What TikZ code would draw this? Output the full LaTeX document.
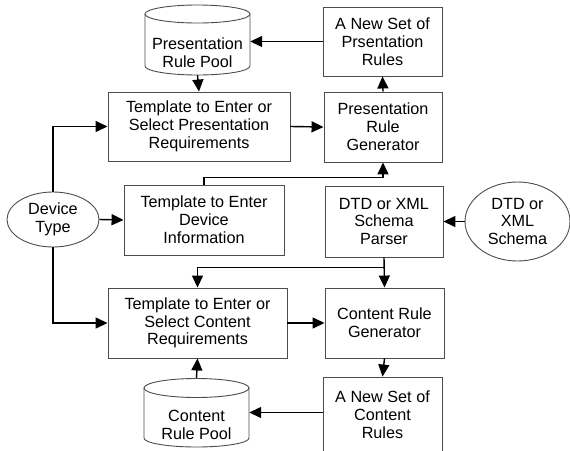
\documentclass[tikz,border=0pt]{standalone}
\usepackage{fontspec}
\setmainfont{Liberation Sans}
\usetikzlibrary{arrows.meta,shapes.geometric}
\begin{document}
\begin{tikzpicture}[x=1pt,y=-1pt,
  font=\fontsize{16.2}{17.8}\selectfont,
  box/.style={draw=black!70, line width=0.9pt, align=center, inner sep=0pt, fill=white},
  oval/.style={ellipse, draw=black!70, line width=0.9pt, align=center, inner sep=0pt},
  arr/.style={-{Triangle[length=12pt,width=11pt]}, line width=1.4pt},
  cyl/.style={draw=black!70, line width=0.9pt},
  tx/.style={align=center, inner sep=0pt}]
\useasboundingbox (0,0) rectangle (570,450);

% cylinders (drawn directly)
\draw[cyl] (145,14) -- (145,66) arc[start angle=180,end angle=0,x radius=52.5,y radius=9] -- (250,14);
\draw[cyl] (197.5,14) ellipse[x radius=52.5,y radius=9];
\node[tx, minimum width=105pt, minimum height=70pt] (pool1) at (197.5,40) {};
\node[tx] (pool1t) at (197.5,53) {Presentation\\Rule Pool};

\draw[cyl] (144,388) -- (144,438) arc[start angle=180,end angle=0,x radius=52.5,y radius=9] -- (249,388);
\draw[cyl] (196.5,388) ellipse[x radius=52.5,y radius=9.5];
\node[tx, minimum width=105pt, minimum height=69pt] (pool2) at (196.5,412.5) {};
\node[tx] (pool2t) at (196.5,425) {Content\\Rule Pool};

% boxes
\node[box, minimum width=182pt, minimum height=69pt] (tpr) at (199,126.5) {Template to Enter or\\Select Presentation\\Requirements};
\node[box, minimum width=119pt, minimum height=69pt] (nsp) at (382.5,41.5) {A New Set of\\Prsentation\\Rules};
\node[box, minimum width=118pt, minimum height=70pt] (prg) at (383,127) {Presentation\\Rule\\Generator};
\node[box, minimum width=160pt, minimum height=70pt] (tdi) at (204,220) {Template to Enter\\Device\\Information};
\node[box, minimum width=118pt, minimum height=71pt] (dtp) at (384,221.5) {DTD or XML\\Schema\\Parser};
\node[box, minimum width=179pt, minimum height=70pt] (tcr) at (197.5,323) {Template to Enter or\\Select Content\\Requirements};
\node[box, minimum width=119pt, minimum height=70pt] (crg) at (384.5,323) {Content Rule\\Generator};
\node[box, minimum width=119pt, minimum height=76pt] (nsc) at (382.5,415) {A New Set of\\Content\\Rules};

% ellipses
\node[oval, minimum width=92pt, minimum height=55pt] (dev) at (53,219.5) {Device\\Type};
\node[oval, minimum width=105pt, minimum height=79pt] (dtd) at (517.5,221.5) {DTD or\\XML\\Schema};

% connectors
\draw[arr] (pool1.south) -- (tpr.north);
\draw[arr] (nsp.west) -- (nsp.west -| pool1.east);
\draw[arr] (prg.north) -- (nsp.south);
\draw[arr] (tpr.east) -- (prg.west);
\draw[arr] (dev.north) |- (tpr.west);
\draw[arr] (dev.south) |- (tcr.west);
\draw[arr] (dev.east) -- (tdi.west);
\coordinate (tdiup) at ([yshift=7pt]tdi.north);
\draw[arr] (tdi.north) -- (tdiup) -| (prg.south);
\draw[arr] (dtd.west) -- (dtp.east);
\draw[arr] (dtp.south) -- (crg.north);
\coordinate (dtpj) at ([yshift=-10pt]dtp.south);
\draw[arr] (dtpj) -| (tcr.north);
\draw[arr] (tcr.east) -- (crg.west);
\draw[arr] (crg.south) -- (nsc.north);
\draw[arr] (nsc.west |- pool2.east) -- (pool2.east);
\draw[arr] (pool2.north) -- (tcr.south);
\end{tikzpicture}
\end{document}
